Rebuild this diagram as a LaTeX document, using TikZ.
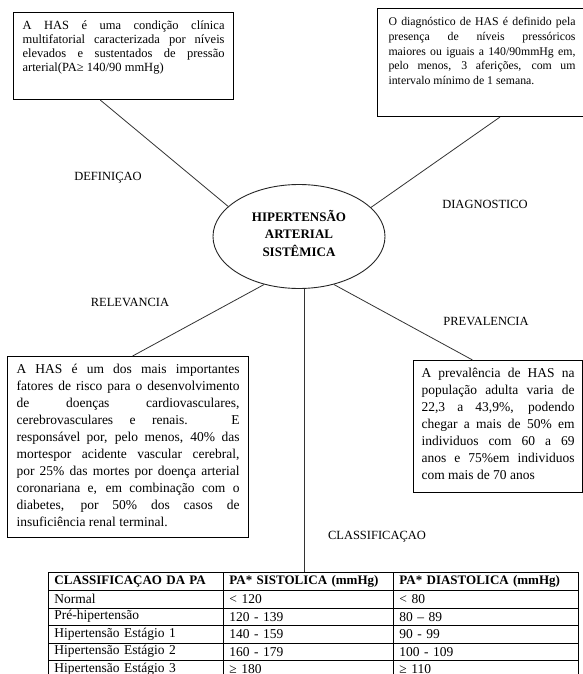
\documentclass[tikz,border=0pt]{standalone}
\usepackage{fontspec}
\setmainfont{Liberation Serif}
\usetikzlibrary{calc,shapes.geometric}
\newcommand\bxt[3]{\parbox[c][#2][t]{#1}{#3}}
\begin{document}
\begin{tikzpicture}[x=1pt,y=-1pt,
  box/.style={draw=black,line width=1.1pt,anchor=north west},
  conn/.style={draw=black!80,line width=0.8pt},
  lbl/.style={font=\fontsize{12.5}{14}\selectfont,inner sep=0pt},
  cell/.style={draw=black,line width=0.9pt,anchor=north west,minimum height=17.5pt,inner xsep=6pt,inner ysep=0pt,align=left,font=\fontsize{13.5}{14}\selectfont},
  hcell/.style={cell,minimum height=18pt,font=\bfseries\fontsize{13}{14}\selectfont},
  ca/.style={text width=163pt},
  cb/.style={text width=158pt},
  cc/.style={text width=173pt}]
\useasboundingbox (0,0) rectangle (583,674);
\clip (0,0) rectangle (583,674);
\fill[white] (0,0) rectangle (583,674);

% boxes
\node[box,inner xsep=9pt,inner ysep=8pt] (b1) at (13,12) {\bxt{202pt}{71pt}{\fontsize{12.5}{14.2}\selectfont
A HAS é uma condição clínica\linebreak multifatorial caracterizada por níveis\linebreak elevados e sustentados de pressão\linebreak arterial(PA≥ 140/90 mmHg)}};

\node[box,inner xsep=11pt,inner ysep=9pt] (b2) at (377,8) {\bxt{187pt}{90pt}{\fontsize{11.8}{14.6}\selectfont
O diagnóstico de HAS é definido pela\linebreak presença de níveis pressóricos\linebreak maiores ou iguais a 140/90mmHg em,\linebreak pelo menos, 3 aferições, com um\linebreak intervalo mínimo de 1 semana.}};

\node[box,inner xsep=9pt,inner ysep=8pt] (b3) at (7,356) {\bxt{223pt}{165pt}{\fontsize{13.5}{17}\selectfont
A HAS é um dos mais importantes\linebreak fatores de risco para o desenvolvimento\linebreak de doenças cardiovasculares,\linebreak cerebrovasculares e renais. E\linebreak responsável por, pelo menos, 40\% das\linebreak mortespor acidente vascular cerebral,\linebreak por 25\% das mortes por doença arterial\linebreak coronariana e, em combinação com o\linebreak diabetes, por 50\% dos casos de\linebreak insuficiência renal terminal.}};

\node[box,inner xsep=8pt,inner ysep=8pt] (b4) at (413,360) {\bxt{153pt}{116pt}{\fontsize{13.5}{17}\selectfont
A prevalência de HAS na\linebreak população adulta varia de\linebreak 22,3 a 43,9\%, podendo\linebreak chegar a mais de 50\% em\linebreak individuos com 60 a 69\linebreak anos e 75\%em individuos\linebreak com mais de 70 anos}};

% central ellipse
\node[ellipse,draw=black!85,line width=0.9pt,minimum width=172pt,minimum height=104pt,inner sep=0pt] (ell) at (299,236.5) {};
\node[align=center,inner sep=0pt,font=\bfseries\fontsize{13}{17.5}\selectfont] (ellt) at (299,233) {HIPERTENSÃO\\ARTERIAL\\SISTÊMICA};

% labels
\node[lbl] (l1) at (108,178) {DEFINIÇAO};
\node[lbl] (l2) at (485,204) {DIAGNOSTICO};
\node[lbl] (l3) at (130,302) {RELEVANCIA};
\node[lbl] (l4) at (486,321) {PREVALENCIA};
\node[lbl] (l5) at (377,537) {CLASSIFICAÇAO};

% table
\node[hcell,ca] (h1) at (48,572) {CLASSIFICAÇAO DA PA};
\node[hcell,cb] (h2) at (223,572) {PA* SISTOLICA (mmHg)};
\node[hcell,cc] (h3) at (393,572) {PA* DIASTOLICA (mmHg)};

\node[cell,ca] (r1a) at (48,590) {Normal};
\node[cell,cb] (r1b) at (223,590) {< 120};
\node[cell,cc] (r1c) at (393,590) {< 80};
\node[cell,ca] (r2a) at (48,607.5) {Pré-hipertensão};
\node[cell,cb] (r2b) at (223,607.5) {120 - 139};
\node[cell,cc] (r2c) at (393,607.5) {80 – 89};
\node[cell,ca] (r3a) at (48,625) {Hipertensão Estágio 1};
\node[cell,cb] (r3b) at (223,625) {140 - 159};
\node[cell,cc] (r3c) at (393,625) {90 - 99};
\node[cell,ca] (r4a) at (48,642.5) {Hipertensão Estágio 2};
\node[cell,cb] (r4b) at (223,642.5) {160 - 179};
\node[cell,cc] (r4c) at (393,642.5) {100 - 109};
\node[cell,ca] (r5a) at (48,660) {Hipertensão Estágio 3};
\node[cell,cb] (r5b) at (223,660) {≥ 180};
\node[cell,cc] (r5c) at (393,660) {≥ 110};

% connectors
\draw[conn] ($(b1.south west)!0.395!(b1.south east)$) -- (ell.157);
\draw[conn] ($(b2.south west)!0.585!(b2.south east)$) -- (ell.22);
\draw[conn] (ell.234) -- ($(b3.north west)!0.519!(b3.north east)$);
\draw[conn] (ell.306) -- ($(b4.north west)!0.35!(b4.north east)$);
\draw[conn] ([xshift=5pt]ell.south) -- ([xshift=5pt]ell.south |- h2.north);
\end{tikzpicture}
\end{document}
